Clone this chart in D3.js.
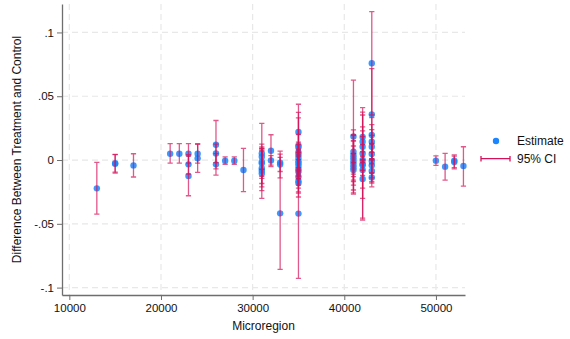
<!DOCTYPE html>
<html>
<head>
<meta charset="utf-8">
<script src="https://cdn.jsdelivr.net/npm/d3@7"></script>
<style>
  body { margin: 0; background: #fff; }
  text { font-family: "Liberation Sans", Arial, sans-serif; fill: #111; }
</style>
</head>
<body>
<div id="chart"></div>
<script>
// Estimates by microregion, with 95% CI bounds
const microregion = [
  13000, 15000, 15000, 17000, 21000, 22000, 23000, 23000, 23000, 24000, 24000,
  26000, 26000, 26000, 27000, 28000, 29000,
  31000, 31000, 31000, 31000, 31000, 31000, 31000,
  32000, 32000, 33000, 33000, 33000,
  35000, 35000, 35000, 35000, 35000, 35000, 35000, 35000, 35000, 35000, 35000, 35000, 35000, 35000, 35000,
  41000, 41000, 41000, 41000, 41000, 41000, 41000, 41000, 41000,
  42000, 42000, 42000, 42000, 42000, 42000, 42000, 42000, 42000,
  43000, 43000, 43000, 43000, 43000, 43000, 43000, 43000, 43000, 43000,
  50000, 51000, 52000, 52000, 53000
];
const estimate = [
  -0.0222, -0.0025, -0.0030, -0.0042, 0.0049, 0.0049, 0.0049, -0.0034, -0.0125, 0.0049, 0.0013,
  0.0120, 0.0052, -0.0034, -0.0005, -0.0005, -0.0078,
  0.0052, 0.0026, -0.0013, -0.0026, -0.0065, -0.0084, -0.0105,
  0.0073, -0.0003, -0.0020, -0.0035, -0.0418,
  0.0220, 0.0115, 0.0100, 0.0060, 0.0040, 0.0015, -0.0010, -0.0025, -0.0045, -0.0070, -0.0090, -0.0130, -0.0165, -0.0180, -0.0420,
  0.0185, 0.0065, 0.0040, 0.0020, 0.0000, -0.0020, -0.0040, -0.0060, -0.0078,
  0.0180, 0.0144, 0.0104, 0.0052, 0.0000, -0.0030, -0.0040, -0.0078, -0.0149,
  0.0758, 0.0358, 0.0196, 0.0144, 0.0104, 0.0047, -0.0008, -0.0040, -0.0086, -0.0136,
  -0.0005, -0.0052, -0.0005, -0.0015, -0.0047
];
const ciLow = [
  -0.0424, -0.0095, -0.0102, -0.0133, -0.0024, -0.0024, -0.0024, -0.0110, -0.0280, -0.0024, -0.0097,
  -0.0070, -0.0020, -0.0118, -0.0033, -0.0033, -0.0248,
  -0.0184, -0.0073, -0.0128, -0.0144, -0.0210, -0.0240, -0.0300,
  -0.0052, -0.0040, -0.0090, -0.0140, -0.0857,
  0.0003, -0.0144, -0.0130, -0.0080, -0.0060, -0.0090, -0.0100, -0.0120, -0.0150, -0.0196, -0.0220, -0.0290, -0.0260, -0.0250, -0.0928,
  -0.0257, -0.0020, -0.0157, -0.0110, -0.0196, -0.0235, -0.0130, -0.0170, -0.0267,
  0.0000, 0.0028, -0.0020, -0.0080, -0.0120, -0.0470, -0.0455, -0.0220, -0.0300,
  0.0353, 0.0000, 0.0060, 0.0010, -0.0030, -0.0100, -0.0140, -0.0210, -0.0180, -0.0170,
  -0.0042, -0.0157, -0.0070, -0.0060, -0.0204
];
const ciHigh = [
  -0.0018, 0.0045, 0.0042, 0.0049, 0.0128, 0.0128, 0.0128, 0.0042, 0.0030, 0.0128, 0.0122,
  0.0310, 0.0124, 0.0050, 0.0024, 0.0024, 0.0092,
  0.0288, 0.0125, 0.0102, 0.0092, 0.0080, 0.0072, 0.0090,
  0.0198, 0.0034, 0.0047, 0.0070, 0.0021,
  0.0437, 0.0374, 0.0330, 0.0200, 0.0140, 0.0120, 0.0080, 0.0070, 0.0060, 0.0056, 0.0040, 0.0030, -0.0070, -0.0110, 0.0088,
  0.0627, 0.0150, 0.0237, 0.0150, 0.0196, 0.0195, 0.0050, 0.0050, 0.0110,
  0.0353, 0.0260, 0.0228, 0.0184, 0.0120, 0.0410, 0.0375, 0.0064, 0.0002,
  0.1163, 0.0716, 0.0332, 0.0278, 0.0238, 0.0194, 0.0124, 0.0130, 0.0008, -0.0102,
  0.0032, 0.0052, 0.0040, 0.0030, 0.0104
];

const xTicks = [10000, 20000, 30000, 40000, 50000];
const yTicks = [-0.1, -0.05, 0, 0.05, 0.1];
const yTickLabels = ['-.1', '-.05', '0', '.05', '.1'];

const width = 570, height = 339;
const plot = { left: 62, right: 465, top: 4, bottom: 295 };
const blue = '#1a85ff', red = '#d41159';

const svg = d3.select('#chart').append('svg')
    .attr('width', width)
    .attr('height', height)
    .style('background', '#fff');

const x = d3.scaleLinear().domain([9200, 53170]).range([plot.left, plot.right]);
const y = d3.scaleLinear().domain([-0.1058, 0.1223]).range([plot.bottom, plot.top]);

// Grid lines, dashed and light
svg.append('g').selectAll('line.gx').data(xTicks).enter().append('line')
    .attr('x1', d => x(d)).attr('x2', d => x(d))
    .attr('y1', plot.top).attr('y2', plot.bottom)
    .attr('stroke', '#e8e8e8').attr('stroke-width', 1.2).attr('stroke-dasharray', '6,4');
svg.append('g').selectAll('line.gy').data(yTicks).enter().append('line')
    .attr('x1', plot.left).attr('x2', plot.right)
    .attr('y1', d => y(d)).attr('y2', d => y(d))
    .attr('stroke', '#e8e8e8').attr('stroke-width', 1.2).attr('stroke-dasharray', '6,4');

// Axes
const xAxis = svg.append('g')
    .attr('transform', `translate(0,${plot.bottom})`)
    .call(d3.axisBottom(x).tickValues(xTicks).tickFormat(d3.format('d')).tickSize(5).tickPadding(4).tickSizeOuter(0));
const yAxis = svg.append('g')
    .attr('transform', `translate(${plot.left},0)`)
    .call(d3.axisLeft(y).tickValues(yTicks).tickFormat((d, i) => yTickLabels[i]).tickSize(5).tickPadding(3).tickSizeOuter(0));

[xAxis, yAxis].forEach(a => {
    a.select('.domain').attr('stroke', '#6e6e6e').attr('stroke-width', 1.3);
    a.selectAll('.tick line').attr('stroke', '#6e6e6e').attr('stroke-width', 1);
    a.selectAll('.tick text').style('font-family', '"Liberation Sans", Arial, sans-serif')
        .style('font-size', '11.5px').attr('fill', '#111');
});

// Points (estimates)
const idx = d3.range(microregion.length);
svg.append('g').selectAll('circle').data(idx).enter().append('circle')
    .attr('cx', i => x(microregion[i]))
    .attr('cy', i => y(estimate[i]))
    .attr('r', 3.2)
    .attr('fill', blue)
    .attr('fill-opacity', 0.85);

// 95% CI caps, drawn on top
const capW = 2.6;
const ci = svg.append('g')
    .attr('stroke', red).attr('stroke-opacity', 0.7).attr('stroke-width', 1.3).attr('fill', 'none');
ci.selectAll('path').data(idx).enter().append('path')
    .attr('d', i => {
        const cx = x(microregion[i]), lo = y(ciLow[i]), hi = y(ciHigh[i]);
        return `M${cx},${lo}V${hi}M${cx - capW},${hi}H${cx + capW}M${cx - capW},${lo}H${cx + capW}`;
    });

// Axis titles
svg.append('text')
    .attr('x', (plot.left + plot.right) / 2)
    .attr('y', 330)
    .attr('text-anchor', 'middle')
    .style('font-size', '12px')
    .text('Microregion');
svg.append('text')
    .attr('transform', `translate(17,${(plot.top + plot.bottom) / 2}) rotate(-90)`)
    .attr('text-anchor', 'middle')
    .attr('dominant-baseline', 'central')
    .style('font-size', '12px')
    .text('Difference Between Treatment and Control');

// Legend
const lg = svg.append('g');
lg.append('circle').attr('cx', 496).attr('cy', 141).attr('r', 3.2).attr('fill', blue);
lg.append('text').attr('x', 517).attr('y', 141).attr('dominant-baseline', 'central')
    .style('font-size', '12px').text('Estimate');
lg.append('path')
    .attr('d', 'M481,158.7H510M481,156V161.4M510,156V161.4')
    .attr('stroke', red).attr('stroke-width', 1.3).attr('fill', 'none');
lg.append('text').attr('x', 517).attr('y', 159).attr('dominant-baseline', 'central')
    .style('font-size', '12px').text('95% CI');
</script>
</body>
</html>
